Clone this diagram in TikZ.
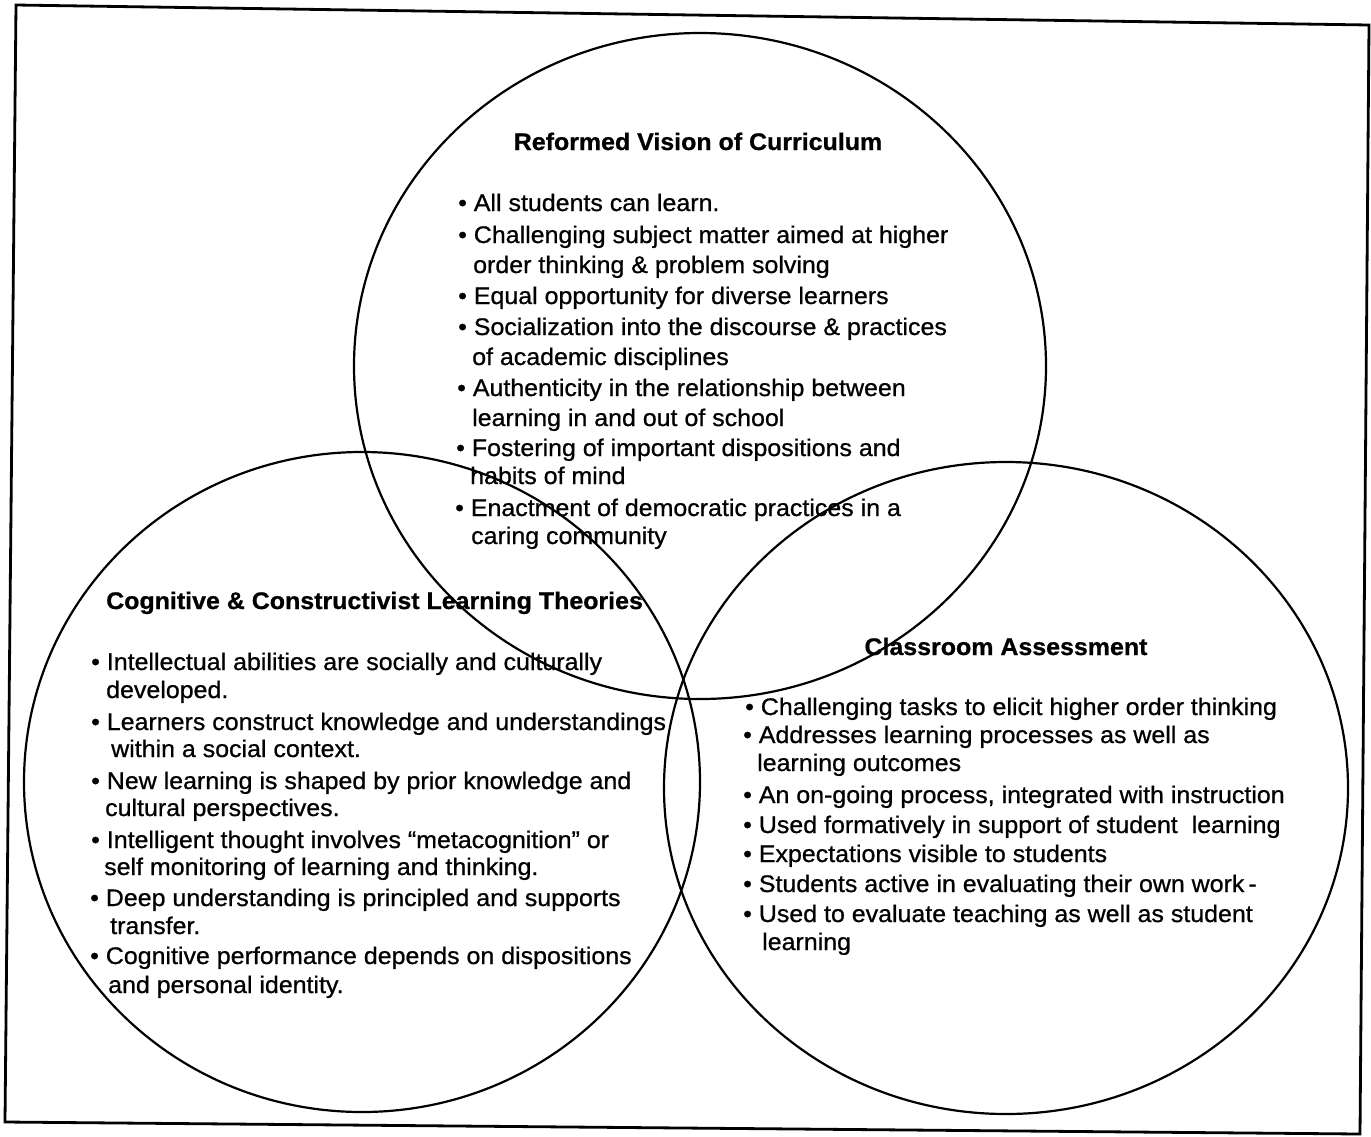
\documentclass[tikz,border=0pt]{standalone}
\usepackage{fontspec}
\setmainfont{Liberation Sans}[FakeStretch=1.04, FakeBold=0.8]
\newcommand\vbul{\textbullet\ }
\begin{document}
\begin{tikzpicture}[x=1pt,y=-1pt,
  ring/.style={draw=black, line width=2.2pt},
  frame/.style={draw=black, line width=2.8pt, line join=miter},
  txt/.style={anchor=base west, inner sep=0pt, font=\fontsize{24}{29}\selectfont},
  ttl/.style={anchor=base, inner sep=0pt, font=\fontsize{24}{29}\selectfont\bfseries},
  ttlw/.style={anchor=base west, inner sep=0pt, font=\fontsize{24}{29}\selectfont\bfseries}]
\useasboundingbox (0,0) rectangle (1371,1136);
% outer frame (slightly skewed, as scanned)
\draw[frame] (16,5) -- (1369,25) -- (1360,1134) -- (5,1122) -- cycle;
% three circles
\draw[ring] (700,366) ellipse [x radius=346, y radius=333];
\draw[ring] (362,782) ellipse [x radius=338, y radius=330];
\draw[ring] (1006,788) ellipse [x radius=342, y radius=326];
% top circle
\node[ttl] (tTitle) at (698,150) {Reformed Vision of Curriculum};
\node[txt] (t1) at (458,211) {\vbul All students can learn.};
\node[txt] (t2) at (458,243) {\vbul Challenging subject matter aimed at higher};
\node[txt] (t3) at (473,273) {order thinking \& problem solving};
\node[txt] (t4) at (458,304) {\vbul Equal opportunity for diverse learners};
\node[txt] (t5) at (458,335) {\vbul Socialization into the discourse \& practices};
\node[txt] (t6) at (472,365) {of academic disciplines};
\node[txt] (t7) at (457,396) {\vbul Authenticity in the relationship between};
\node[txt] (t8) at (472,426) {learning in and out of school};
\node[txt] (t9) at (456,456) {\vbul Fostering of important dispositions and};
\node[txt] (t10) at (470,484) {habits of mind};
\node[txt] (t11) at (455,516) {\vbul Enactment of democratic practices in a};
\node[txt] (t12) at (471,544) {caring community};
% left circle
\node[ttlw] (lTitle) at (106,609) {Cognitive \& Constructivist Learning Theories};
\node[txt] (l1) at (91,670) {\vbul Intellectual abilities are socially and culturally};
\node[txt] (l2) at (106,698) {developed.};
\node[txt] (l3) at (91,730) {\vbul Learners construct knowledge and understandings};
\node[txt] (l4) at (111,757) {within a social context.};
\node[txt] (l5) at (91,789) {\vbul New learning is shaped by prior knowledge and};
\node[txt] (l6) at (105,816) {cultural perspectives.};
\node[txt] (l7) at (91,848) {\vbul Intelligent thought involves “metacognition” or};
\node[txt] (l8) at (104,875) {self monitoring of learning and thinking.};
\node[txt] (l9) at (90,906) {\vbul Deep understanding is principled and supports};
\node[txt] (l10) at (110,934) {transfer.};
\node[txt] (l11) at (90,964) {\vbul Cognitive performance depends on dispositions};
\node[txt] (l12) at (108,993) {and personal identity.};
% right circle
\node[ttl] (rTitle) at (1006,655) {Classroom Assessment};
\node[txt] (r1) at (745,715) {\vbul Challenging tasks to elicit higher order thinking};
\node[txt] (r2) at (743,743) {\vbul Addresses learning processes as well as};
\node[txt] (r3) at (757,771) {learning outcomes};
\node[txt] (r4) at (743,803) {\vbul An on-going process, integrated with instruction};
\node[txt] (r5) at (743,833) {\vbul Used formatively in support of student\ \ learning};
\node[txt] (r6) at (743,862) {\vbul Expectations visible to students};
\node[txt] (r7) at (743,892) {\vbul Students active in evaluating their own work\,-};
\node[txt] (r8) at (743,922) {\vbul Used to evaluate teaching as well as student};
\node[txt] (r9) at (762,950) {learning};
\end{tikzpicture}
\end{document}
